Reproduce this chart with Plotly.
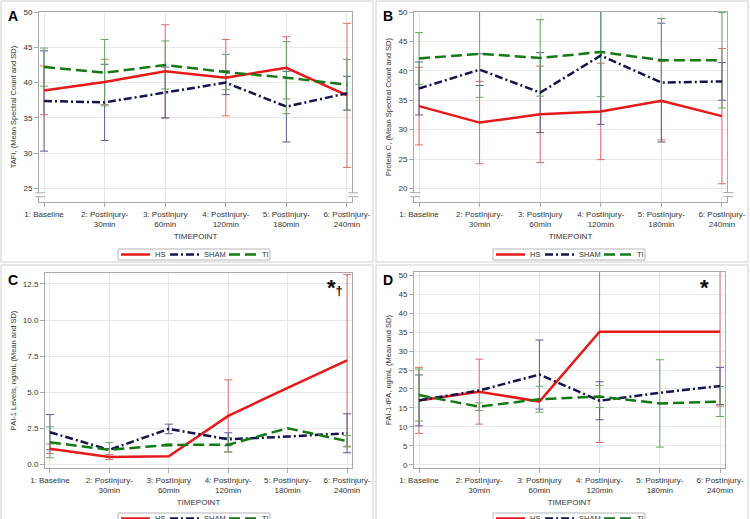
import plotly.graph_objects as go

# x categories
visit = [1, 2, 3, 4, 5, 6]
timepoints = ["1: Baseline", "2: PostInjury-<br>30min", "3: PostInjury<br>60min",
              "4: PostInjury-<br>120min", "5: PostInjury-<br>180min", "6: PostInjury-<br>240min"]
groups = ["HS", "SHAM", "TI"]

# A - TAFI (mean spectral count, SD)
tafi_hs = [38.9, 40.1, 41.6, 40.7, 42.1, 38.2]
tafi_hs_sd = [3.45, 3.2, 6.6, 5.4, 4.4, 10.2]
tafi_sham = [37.4, 37.2, 38.6, 40.0, 36.6, 38.5]
tafi_sham_sd = [7.1, 5.4, 3.6, 1.7, 5.0, 2.4]
tafi_ti = [42.2, 41.4, 42.5, 41.5, 40.7, 39.7]
tafi_ti_sd = [2.7, 4.7, 3.4, 2.5, 5.1, 3.6]

# B - Protein C (mean spectral count, SD)
protc_hs = [34.0, 31.2, 32.6, 33.1, 34.9, 32.3]
protc_hs_sd = [6.6, 7.0, 8.2, 8.2, 6.65, 11.5]
protc_sham = [37.0, 40.2, 36.3, 42.6, 38.0, 38.2]
protc_sham_sd = [4.5, 2.7, 6.8, 11.7, 10.1, 3.2]
protc_ti = [42.1, 42.9, 42.2, 43.2, 41.8, 41.8]
protc_ti_sd = [4.4, 7.4, 6.5, 7.6, 7.1, 8.1]

# C - PAI-1 levels ng/mL (None = no SD shown)
pai1_hs = [1.07, 0.5, 0.55, 3.35, 5.3, 7.2]
pai1_hs_sd = [0.33, 0.17, None, 2.5, None, 5.95]
pai1_sham = [2.22, 1.0, 2.45, 1.73, 1.92, 2.15]
pai1_sham_sd = [1.22, None, 0.33, 0.45, None, 1.35]
pai1_ti = [1.52, 1.0, 1.34, 1.35, 2.5, 1.6]
pai1_ti_sd = [1.07, 0.5, 0.08, 0.5, None, 0.4]

# D - PAI-1-tPA ng/mL
tpa_hs = [17.0, 19.3, 16.7, 35.1, 35.1, 35.1]
tpa_hs_sd = [8.7, 8.55, None, 29.2, None, 19.6]
tpa_sham = [17.0, 19.6, 23.8, 16.9, 19.0, 20.8]
tpa_sham_sd = [6.7, None, 9.1, 5.0, None, 4.9]
tpa_ti = [18.4, 15.35, 17.3, 18.0, 16.2, 16.7]
tpa_ti_sd = [6.85, 1.0, 3.4, 2.9, 11.5, 3.95]

W, H = 750, 519
def px(x):
    return x / W
def py(y):
    return 1 - y / H

line_style = {
    "HS": dict(color="#e61919", dash="solid"),
    "SHAM": dict(color="#14144f", dash="8px,3px,2px,3px"),
    "TI": dict(color="#137a13", dash="11px,5px"),
}
err_color = {"HS": "#e36a6a", "SHAM": "#5b5b95", "TI": "#62a862"}
# legend sample line / label x offsets (px) inside each legend box
legend_slots = {"HS": (3, 32, 35), "SHAM": (52, 81, 84), "TI": (111, 139, 142)}

panels = [
    dict(label="A", ytitle="TAFI, (Mean Spectral Count and SD)",
         series=[(tafi_hs, tafi_hs_sd), (tafi_sham, tafi_sham_sd), (tafi_ti, tafi_ti_sd)],
         box=(39, 352, 12, 202), yrange=[23.1, 50], dtick=5, fmt="d", brk=(24.4, 23.85),
         mark=None, corner=(0, 0), leg=(118, 249)),
    dict(label="B", ytitle="Protein C, (Mean Spectral Count and SD)",
         series=[(protc_hs, protc_hs_sd), (protc_sham, protc_sham_sd), (protc_ti, protc_ti_sd)],
         box=(414, 727, 12, 202), yrange=[17.7, 50], dtick=5, fmt="d", brk=(19.3, 18.6),
         mark=None, corner=(375, 0), leg=(493, 249)),
    dict(label="C", ytitle="PAI-1 Levels, ng/mL (Mean and SD)",
         series=[(pai1_hs, pai1_hs_sd), (pai1_sham, pai1_sham_sd), (pai1_ti, pai1_ti_sd)],
         box=(45, 352, 273, 468), yrange=[-0.26, 13.26], dtick=2.5, fmt=".1f", brk=None,
         mark=("<span style='font-size:22px'>*</span>†", 335, 287), corner=(0, 264), leg=(118, 513)),
    dict(label="D", ytitle="PAI-1-tPA, ng/mL (Mean and SD)",
         series=[(tpa_hs, tpa_hs_sd), (tpa_sham, tpa_sham_sd), (tpa_ti, tpa_ti_sd)],
         box=(414, 725, 272, 468), yrange=[-0.8, 50.8], dtick=5, fmt="d", brk=None,
         mark=("<span style='font-size:22px'>*</span>", 711, 287), corner=(375, 264), leg=(493, 513)),
]

fig = go.Figure()
shapes = []
annotations = []
layout = {}

for i, p in enumerate(panels):
    n = "" if i == 0 else str(i + 1)
    xa, ya = "x" + n, "y" + n
    x0, x1, y0, y1 = p["box"]

    # error bars first so the mean lines sit on top
    for g, (mean, sd) in zip(groups, p["series"]):
        keep = [k for k, s in enumerate(sd) if s is not None]
        fig.add_trace(go.Scatter(
            x=[visit[k] for k in keep], y=[mean[k] for k in keep], mode="markers",
            marker=dict(size=0, opacity=0),
            error_y=dict(type="data", array=[sd[k] for k in keep], color=err_color[g],
                         thickness=1, width=4),
            showlegend=False, hoverinfo="skip", xaxis=xa, yaxis=ya))
    for g, (mean, sd) in zip(groups, p["series"]):
        fig.add_trace(go.Scatter(
            x=visit, y=mean, mode="lines", name=g,
            line=dict(width=2.5, **line_style[g]),
            showlegend=False, xaxis=xa, yaxis=ya))

    layout["xaxis" + n] = dict(
        domain=[px(x0), px(x1)], anchor=ya, range=[0.917, 6.083],
        tickvals=visit, ticktext=timepoints, tickfont=dict(size=8),
        showline=True, mirror=True, linecolor="#a9a9a9", ticks="outside", ticklen=4,
        tickcolor="#a9a9a9", showgrid=True, gridcolor="#e8e8e8", zeroline=False,
        title=dict(text="TIMEPOINT", font=dict(size=8), standoff=5))
    layout["yaxis" + n] = dict(
        domain=[py(y1), py(y0)], anchor=xa, range=p["yrange"], dtick=p["dtick"],
        tick0=0, tickformat=p["fmt"], tickfont=dict(size=8),
        showline=True, mirror=True, linecolor="#a9a9a9", ticks="outside", ticklen=4,
        tickcolor="#a9a9a9", showgrid=True, gridcolor="#e8e8e8", zeroline=False,
        title=dict(text=p["ytitle"], font=dict(size=7.5), standoff=5))

    # axis break marks on the left and right frame lines
    if p["brk"]:
        hi, lo = p["brk"]
        for side in (0, 1):
            shapes.append(dict(type="rect", xref=xa + " domain", yref=ya,
                               x0=side - 0.02, x1=side + 0.02, y0=lo, y1=hi,
                               fillcolor="white", line=dict(width=0), layer="above"))
            for yv in (hi, lo):
                shapes.append(dict(type="line", xref=xa + " domain", yref=ya,
                                   x0=side - 0.012, x1=side + 0.02, y0=yv, y1=yv,
                                   line=dict(color="#a9a9a9", width=1), layer="above"))

    # SAS-style legend box under the panel
    lx, ly = p["leg"]
    shapes.append(dict(type="rect", xref="paper", yref="paper",
                       x0=px(lx), x1=px(lx + 152), y0=py(ly + 11), y1=py(ly),
                       fillcolor="white", line=dict(color="#b5b5b5", width=1)))
    for g in groups:
        a, b, t = legend_slots[g]
        shapes.append(dict(type="line", xref="paper", yref="paper",
                           x0=px(lx + a), x1=px(lx + b), y0=py(ly + 5.5), y1=py(ly + 5.5),
                           line=dict(width=2.5, **line_style[g])))
        annotations.append(dict(text=g, xref="paper", yref="paper", x=px(lx + t),
                                y=py(ly + 5.5), xanchor="left", yanchor="middle",
                                showarrow=False, font=dict(size=7.5)))

    cx, cy = p["corner"]
    shapes.append(dict(type="rect", xref="paper", yref="paper",
                       x0=px(cx + 1), x1=px(cx + 373), y0=py(cy + 262), y1=py(cy + 1),
                       line=dict(color="#cfcfcf", width=1), layer="below"))
    annotations.append(dict(text="<b>" + p["label"] + "</b>", xref="paper", yref="paper",
                            x=px(cx + 6), y=py(cy + 6), xanchor="left", yanchor="top",
                            showarrow=False, font=dict(size=14, color="black")))
    if p["mark"]:
        t, mx, my = p["mark"]
        annotations.append(dict(text="<b>" + t + "</b>", xref="paper", yref="paper",
                                x=px(mx), y=py(my), showarrow=False,
                                font=dict(size=13, color="black")))

fig.update_layout(
    width=W, height=H,
    margin=dict(l=0, r=0, t=0, b=0, autoexpand=False),
    paper_bgcolor="white", plot_bgcolor="white",
    font=dict(family="Liberation Sans", size=8, color="#333333"),
    shapes=shapes, annotations=annotations, hovermode=False, showlegend=False,
    **layout)

# the page body has a default 8px margin; drop it so the figure fills the window
fig.write_html("out.html", config={"displayModeBar": False},
               post_script="document.body.style.margin = '0';")
